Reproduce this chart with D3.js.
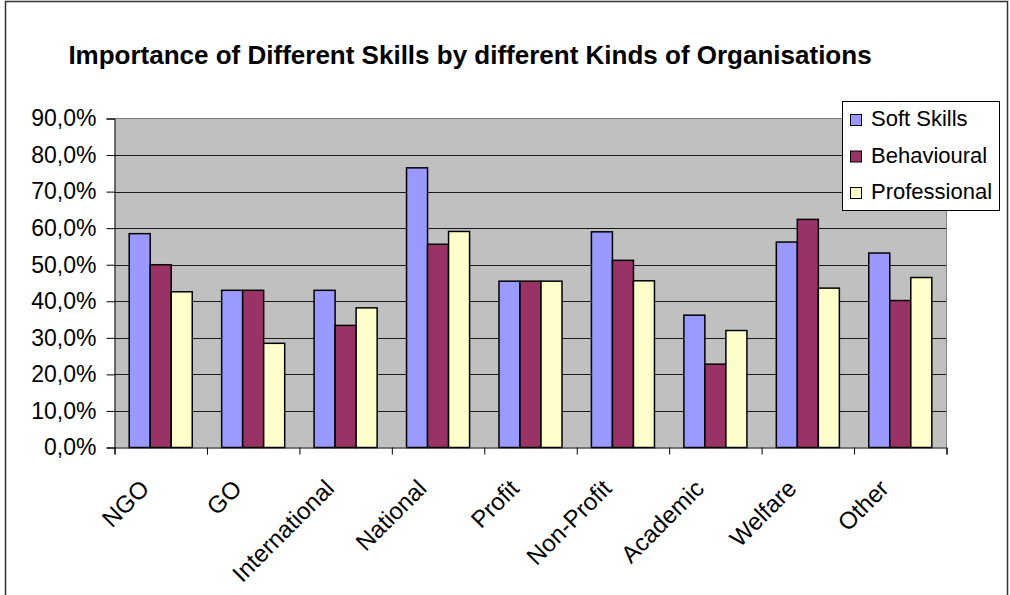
<!DOCTYPE html>
<html>
<head>
<meta charset="utf-8">
<script src="https://cdn.jsdelivr.net/npm/d3@7"></script>
<style>
  body { margin: 0; background: #fff; }
  text { font-family: "Liberation Sans", Arial, sans-serif; fill: #000; }
</style>
</head>
<body>
<svg id="chart" width="1010" height="595"></svg>
<script>
// Organisation kinds on the x axis
const categories = ["NGO", "GO", "International", "National", "Profit", "Non-Profit", "Academic", "Welfare", "Other"];
// Skill series (percent of respondents)
const seriesNames = ["Soft Skills", "Behavioural", "Professional"];
const softSkills   = [58.5, 43.0, 43.0, 76.5, 45.5, 59.0, 36.2, 56.2, 53.2];
const behavioural  = [50.0, 43.0, 33.4, 55.6, 45.5, 51.2, 22.8, 62.4, 40.2];
const professional = [42.6, 28.5, 38.2, 59.1, 45.5, 45.6, 32.0, 43.6, 46.5];
// Value axis ticks
const yTicks = [0, 10, 20, 30, 40, 50, 60, 70, 80, 90];
const chartTitle = "Importance of Different Skills by different Kinds of Organisations";

const seriesValues = [softSkills, behavioural, professional];
const colors = ["#9999ff", "#993366", "#ffffcc"];

const plot = { left: 114.5, right: 946.5, top: 118.5, bottom: 447.5 };

const svg = d3.select("#chart");

// outer chart frame
svg.append("rect")
  .attr("x", 5.5).attr("y", 1.5)
  .attr("width", 1002).attr("height", 620)
  .attr("fill", "#fff").attr("stroke", "#333").attr("stroke-width", 1.5);

// title
svg.append("text")
  .attr("x", 470).attr("y", 64)
  .attr("text-anchor", "middle")
  .style("font-weight", "bold").style("font-size", "26px")
  .text(chartTitle);

const x0 = d3.scaleBand().domain(categories).range([plot.left, plot.right]);
const bw = x0.bandwidth();
const x1 = d3.scaleBand().domain(seriesNames).range([bw * 0.159, bw * 0.841]);
const y = d3.scaleLinear().domain([0, 90]).range([plot.bottom, plot.top]);

// plot background
svg.append("rect")
  .attr("x", plot.left).attr("y", plot.top)
  .attr("width", plot.right - plot.left).attr("height", plot.bottom - plot.top)
  .attr("fill", "#c0c0c0");

// horizontal gridlines
svg.append("g").selectAll("line")
  .data(yTicks.filter(d => d > 0 && d < 90))
  .join("line")
  .attr("x1", plot.left).attr("x2", plot.right)
  .attr("y1", d => Math.round(y(d)) + 0.5).attr("y2", d => Math.round(y(d)) + 0.5)
  .attr("stroke", "#1a1a1a").attr("stroke-width", 1);

// plot frame (top / right)
svg.append("path")
  .attr("d", `M${plot.left},${plot.top}H${plot.right}V${plot.bottom}`)
  .attr("fill", "none").attr("stroke", "#808080").attr("stroke-width", 1);

// bars
const groups = svg.append("g").selectAll("g")
  .data(categories)
  .join("g")
  .attr("transform", d => `translate(${x0(d)},0)`);

groups.selectAll("rect")
  .data((c, i) => seriesNames.map((s, k) => ({ s, k, v: seriesValues[k][i] })))
  .join("rect")
  .attr("x", d => x1(d.s))
  .attr("width", x1.bandwidth())
  .attr("y", d => y(d.v))
  .attr("height", d => y(0) - y(d.v))
  .attr("fill", d => colors[d.k])
  .attr("stroke", "#000").attr("stroke-width", 1.5);

// value axis
const locale = d3.formatLocale({ decimal: ",", thousands: ".", grouping: [3], currency: ["", "€"] });
const fmt = locale.format(".1f");
const yAxis = svg.append("g")
  .attr("transform", `translate(${plot.left},0)`)
  .call(d3.axisLeft(y).tickValues(yTicks).tickSize(8).tickPadding(10).tickFormat(d => fmt(d) + "%"));
yAxis.select(".domain").attr("stroke", "#000");
yAxis.selectAll(".tick line").attr("stroke", "#000");
yAxis.selectAll("text").style("font-size", "23px").attr("fill", "#000");

// category axis: ticks at group boundaries
const xIdx = d3.scaleLinear().domain([0, categories.length]).range([plot.left, plot.right]);
const xAxis = svg.append("g")
  .attr("transform", `translate(0,${plot.bottom})`)
  .call(d3.axisBottom(xIdx).tickValues(d3.range(categories.length + 1)).tickSize(7).tickFormat(""));
xAxis.select(".domain").attr("stroke", "#000");
xAxis.selectAll(".tick line").attr("stroke", "#000");

// rotated category labels
svg.append("g").selectAll("text")
  .data(categories)
  .join("text")
  .attr("transform", d => `translate(${x0(d) + bw / 2 - 10},490) rotate(-45)`)
  .attr("text-anchor", "end")
  .style("font-size", "24px")
  .text(d => d);

// legend
const legend = svg.append("g");
legend.append("rect")
  .attr("x", 842.5).attr("y", 101.5).attr("width", 157).attr("height", 109)
  .attr("fill", "#fff").attr("stroke", "#000").attr("stroke-width", 1);
const items = legend.selectAll("g.item")
  .data(seriesNames)
  .join("g").attr("class", "item")
  .attr("transform", (d, i) => `translate(0,${i * 36.5})`);
items.append("rect")
  .attr("x", 850.5).attr("y", 114.5).attr("width", 11).attr("height", 11)
  .attr("fill", (d, i) => colors[i]).attr("stroke", "#000").attr("stroke-width", 1);
items.append("text")
  .attr("x", 871).attr("y", 126)
  .style("font-size", "22px")
  .text(d => d);
</script>
</body>
</html>
